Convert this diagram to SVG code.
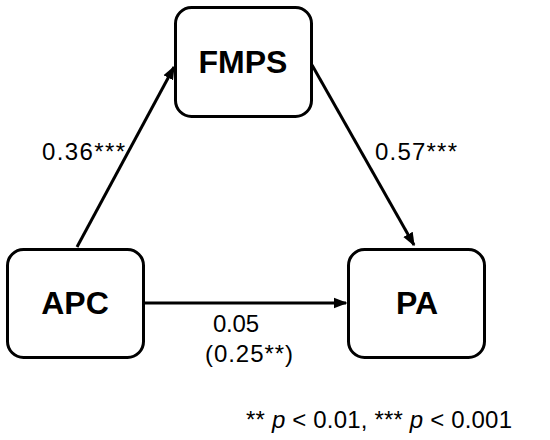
<svg xmlns="http://www.w3.org/2000/svg" width="550" height="440" viewBox="0 0 550 440">
<style>
.box{fill:#fff;stroke:#000;stroke-width:3}
.lbl{font-family:"Liberation Sans",Arial,sans-serif;font-weight:bold;font-size:32px;text-anchor:middle;fill:#000}
.num{font-family:"Liberation Sans",Arial,sans-serif;font-size:24px;fill:#000}
.edge{stroke:#000;stroke-width:3;fill:none;marker-end:url(#ah)}
</style>
<defs>
<marker id="ah" viewBox="0 0 10 10" refX="9" refY="5" markerWidth="4.5" markerHeight="4.5" orient="auto" markerUnits="strokeWidth">
<path d="M0,1 L10,5 L0,9 z" fill="#000"/>
</marker>
</defs>
<rect width="550" height="440" fill="#fff"/>
<g id="connectors">
<line class="edge" x1="77" y1="247" x2="174" y2="67"/>
<line class="edge" x1="312" y1="65" x2="414" y2="245"/>
<line class="edge" x1="144" y1="303" x2="346" y2="303"/>
</g>
<g id="FMPS"><rect class="box" x="175.5" y="7.5" width="136" height="109" rx="16"/><text class="lbl" x="243" y="73">FMPS</text></g>
<g id="APC"><rect class="box" x="7.5" y="249.5" width="136" height="108" rx="16"/><text class="lbl" x="75" y="314">APC</text></g>
<g id="PA"><rect class="box" x="348.5" y="249.5" width="136" height="108" rx="16"/><text class="lbl" x="417" y="314">PA</text></g>
<g id="labels">
<text class="num" x="42" y="160" textLength="83">0.36***</text>
<text class="num" x="375" y="160" textLength="82">0.57***</text>
<text class="num" x="213" y="332" textLength="46">0.05</text>
<text class="num" x="205" y="362" textLength="88">(0.25**)</text>
<text class="num" x="246" y="428" textLength="266">** <tspan font-style="italic">p</tspan> &lt; 0.01, *** <tspan font-style="italic">p</tspan> &lt; 0.001</text>
</g>
</svg>
